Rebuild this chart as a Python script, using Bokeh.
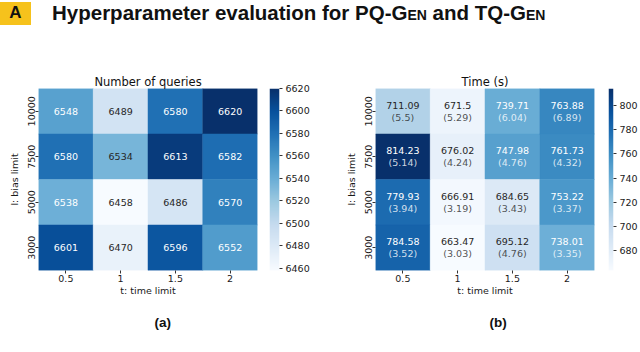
import numpy as np
from bokeh.plotting import figure
from bokeh.models import (ColumnDataSource, LinearColorMapper, Range1d,
                          SingleIntervalTicker, Div, Title)
from bokeh.layouts import column, row
from bokeh.palettes import Blues256
from bokeh.transform import transform
from bokeh.core.properties import value
from bokeh.embed import file_html
from bokeh.resources import INLINE

# ---------------- data ----------------
time_limits = ["0.5", "1", "1.5", "2"]                 # x categories
bias_limits = ["10000", "7500", "5000", "3000"]        # rows, top to bottom

queries = [
    [6548, 6489, 6580, 6620],
    [6580, 6534, 6613, 6582],
    [6538, 6458, 6486, 6570],
    [6601, 6470, 6596, 6552],
]
time_mean = [
    [711.09, 671.5, 739.71, 763.88],
    [814.23, 676.02, 747.98, 761.73],
    [779.93, 666.91, 684.65, 753.22],
    [784.58, 663.47, 695.12, 738.01],
]
time_std = [
    [5.5, 5.29, 6.04, 6.89],
    [5.14, 4.24, 4.76, 4.32],
    [3.94, 3.19, 3.43, 3.37],
    [3.52, 3.03, 4.76, 3.35],
]

# ---------------- helpers ----------------
def rel_lum(hexc):
    r, g, b = [int(hexc[i:i + 2], 16) / 255 for i in (1, 3, 5)]
    f = lambda c: c / 12.92 if c <= 0.03928 else ((c + 0.055) / 1.055) ** 2.4
    return 0.2126 * f(r) + 0.7152 * f(g) + 0.0722 * f(b)

pal = list(Blues256)
if rel_lum(pal[0]) < rel_lum(pal[-1]):
    pal = pal[::-1]   # light -> dark

def cell_color(v, lo, hi):
    idx = int((v - lo) / (hi - lo) * len(pal))
    return pal[min(max(idx, 0), len(pal) - 1)]

def text_color(v, lo, hi):
    return "#262626" if rel_lum(cell_color(v, lo, hi)) > 0.408 else "#ffffff"

FONT = "DejaVu Sans"
TXT = "#1a1a1a"
FIG_H = 302
MB_TOP = 38
MB_BOT = 82


def style_axis(ax):
    ax.axis_line_color = None
    ax.major_tick_out = 3
    ax.major_tick_in = 0
    ax.major_tick_line_color = "#333333"
    ax.minor_tick_line_color = None
    ax.major_label_text_font = FONT
    ax.major_label_text_font_size = "9.5px"
    ax.major_label_text_color = TXT
    ax.major_label_standoff = 1
    ax.axis_label_text_font = FONT
    ax.axis_label_text_font_size = "9.5px"
    ax.axis_label_text_font_style = "normal"
    ax.axis_label_text_color = TXT


def heatmap(title, vals, labels1, labels2, width, mb_left, mb_right, sub, sub_offset):
    lo = min(min(r) for r in vals)
    hi = max(max(r) for r in vals)
    xs, ys, vv, l1, l2, tc = [], [], [], [], [], []
    for i, b in enumerate(bias_limits):
        for j, t in enumerate(time_limits):
            xs.append(t); ys.append(b); vv.append(vals[i][j])
            l1.append(labels1[i][j]); l2.append(labels2[i][j] if labels2 else "")
            tc.append(text_color(vals[i][j], lo, hi))
    src = ColumnDataSource(dict(x=xs, y=ys, v=vv, l1=l1, l2=l2, tc=tc))
    mapper = LinearColorMapper(palette=pal, low=lo, high=hi)

    p = figure(width=width, height=FIG_H, x_range=time_limits,
               y_range=list(reversed(bias_limits)),
               output_backend="svg", toolbar_location=None, title=title,
               min_border_left=mb_left, min_border_right=mb_right,
               min_border_top=MB_TOP, min_border_bottom=MB_BOT)
    p.rect(x="x", y="y", width=1, height=1, source=src,
           fill_color=transform("v", mapper), line_color=transform("v", mapper),
           line_width=0.5)
    if labels2:
        p.text(x="x", y="y", text="l1", source=src, text_color="tc",
               text_align="center", text_baseline="middle", y_offset=-6,
               text_font=value(FONT), text_font_size="9.5px")
        p.text(x="x", y="y", text="l2", source=src, text_color="tc",
               text_align="center", text_baseline="middle", y_offset=6,
               text_font=value(FONT), text_font_size="9.5px", text_alpha=0.8)
    else:
        p.text(x="x", y="y", text="l1", source=src, text_color="tc",
               text_align="center", text_baseline="middle",
               text_font=value(FONT), text_font_size="9.5px")

    p.title.align = "center"
    p.title.text_font = FONT
    p.title.text_font_style = "normal"
    p.title.text_font_size = "11.5px"
    p.title.text_color = "#111111"
    p.title.standoff = 0

    p.xaxis.axis_label = "t: time limit"
    p.yaxis.axis_label = "l: bias limit"
    p.yaxis.major_label_orientation = "vertical"
    style_axis(p.xaxis)
    style_axis(p.yaxis)
    p.xaxis.axis_label_standoff = 0
    p.yaxis.axis_label_standoff = 5
    p.grid.grid_line_color = None
    p.outline_line_color = None

    p.add_layout(Title(text=sub, align="left", offset=sub_offset,
                       text_font="Liberation Sans", text_font_style="bold",
                       text_font_size="13.5px", text_color="#111111",
                       standoff=28), "below")
    return p, mapper, lo, hi


def colorbar(mapper, lo, hi, width, bar_w):
    c = figure(width=width, height=FIG_H, x_range=Range1d(0, 1),
               y_range=Range1d(lo, hi), x_axis_location=None,
               y_axis_location="right", output_backend="svg",
               toolbar_location=None, min_border_left=0,
               min_border_right=width - bar_w,
               min_border_top=MB_TOP, min_border_bottom=MB_BOT)
    grad = np.linspace(lo, hi, 256).reshape(-1, 1)
    c.image(image=[grad], x=0, y=lo, dw=1, dh=hi - lo, color_mapper=mapper)
    c.yaxis.ticker = SingleIntervalTicker(interval=20)
    style_axis(c.yaxis)
    c.yaxis.major_label_standoff = 2
    c.grid.grid_line_color = None
    c.outline_line_color = None
    return c


q_labels = [[f"{v:g}" for v in r] for r in queries]
t_labels = [[f"{v:g}" for v in r] for r in time_mean]
s_labels = [[f"({v:g})" for v in r] for r in time_std]

p1, m1, lo1, hi1 = heatmap("Number of queries", queries, q_labels, None,
                           269, 38, 12, "(a)", 116)
c1 = colorbar(m1, lo1, hi1, 51, 10)
p2, m2, lo2, hi2 = heatmap("Time (s)", time_mean, t_labels, s_labels,
                           288, 55, 14, "(b)", 114)
c2 = colorbar(m2, lo2, hi2, 32, 9)

header_html = (
    '<div style="position:relative;width:640px;height:50px;'
    "font-family:'Liberation Sans',Arial,sans-serif;font-weight:bold;color:#111;\">"
    '<div style="position:absolute;left:0;top:2px;width:31px;height:23px;background:#f6c21c;'
    'display:flex;align-items:center;justify-content:center;font-size:17px;">A</div>'
    '<div style="position:absolute;left:52px;top:3px;font-size:20.5px;line-height:20px;white-space:nowrap;">'
    'Hyperparameter evaluation for PQ-<span style="font-variant:small-caps">Gen</span> '
    'and TQ-<span style="font-variant:small-caps">Gen</span></div>'
    '</div>'
)
header = Div(text=header_html, width=640, height=50, margin=(0, 0, 0, 0))

layout = column(header, row(p1, c1, p2, c2, spacing=0), spacing=0)
open("out.html", "w").write(file_html(layout, INLINE))
